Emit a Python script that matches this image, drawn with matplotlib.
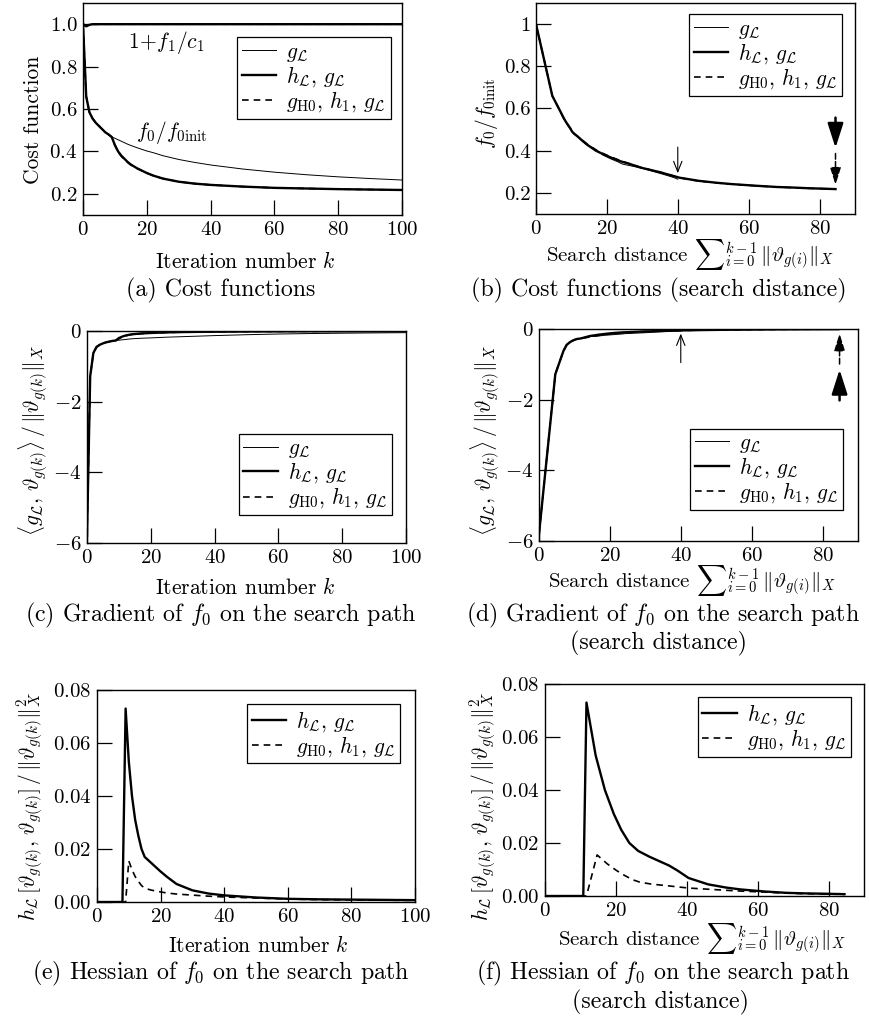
import numpy as np
import matplotlib
matplotlib.use("Agg")
import matplotlib.pyplot as plt

plt.rcParams['font.family'] = 'serif'
plt.rcParams['font.serif'] = ['cmr10']
plt.rcParams['mathtext.fontset'] = 'cm'
plt.rcParams['axes.formatter.use_mathtext'] = True
plt.rcParams['font.size'] = 15
plt.rcParams['axes.unicode_minus'] = True

# ---- data ----
k = [0, 1, 2, 3, 4, 5, 6, 7, 8, 9, 10, 11, 12, 13, 14, 15, 17, 20, 22, 25, 30,
     35, 40, 50, 60, 70, 80, 90, 100]

# search distance sum ||theta_g(i)||_X at each k
s_g = [0, 4.6, 6.9, 7.8, 8.5, 9.1, 9.7, 10.2, 10.8, 11.6, 12.0, 12.4, 12.8, 13.3,
       13.9, 14.5, 15.7, 17.0, 17.8, 18.8, 21.0, 23.0, 24.5, 30.0, 33.0, 35.5,
       37.5, 39.0, 40.0]
s_h = [0, 4.6, 6.9, 7.8, 8.5, 9.1, 9.7, 10.2, 10.8, 11.7, 14.3, 16.9, 19.4, 21.5,
       23.8, 26.3, 29.5, 35.0, 37.5, 40.5, 46.0, 51.0, 55.0, 62.0, 68.0, 73.0,
       77.0, 81.0, 84.5]
s_h1 = [0, 4.6, 6.9, 7.8, 8.5, 9.1, 9.7, 10.2, 10.8, 11.7, 14.7, 17.5, 20.2, 22.4,
        24.6, 26.8, 30.0, 35.0, 37.7, 40.5, 45.5, 50.5, 54.5, 61.5, 67.5, 72.5,
        76.8, 80.8, 84.5]

# cost f0/f0init
f0_g = [1.0, 0.66, 0.585, 0.555, 0.535, 0.52, 0.505, 0.49, 0.48, 0.468, 0.462,
        0.455, 0.448, 0.441, 0.434, 0.428, 0.417, 0.402, 0.394, 0.38, 0.362,
        0.348, 0.336, 0.317, 0.302, 0.29, 0.28, 0.272, 0.265]
f0_h = [1.0, 0.66, 0.585, 0.555, 0.535, 0.52, 0.505, 0.49, 0.48, 0.468, 0.43,
        0.40, 0.38, 0.365, 0.35, 0.338, 0.32, 0.298, 0.286, 0.272, 0.257, 0.248,
        0.242, 0.234, 0.228, 0.225, 0.222, 0.220, 0.218]
f0_h1 = [1.0, 0.66, 0.585, 0.555, 0.535, 0.52, 0.505, 0.49, 0.48, 0.468, 0.428,
         0.398, 0.377, 0.362, 0.348, 0.336, 0.319, 0.298, 0.286, 0.272, 0.257,
         0.248, 0.242, 0.234, 0.228, 0.225, 0.222, 0.220, 0.218]

# constraint 1 + f1/c1
c_g = [1.0, 0.99, 0.998, 1.0, 1.0, 1.0, 1.0, 1.0, 1.0, 1.0, 1.0, 1.0, 1.0, 1.0,
       1.0, 1.0, 1.0, 1.0, 1.0, 1.0, 1.0, 1.0, 1.0, 1.0, 1.0, 1.0, 1.0, 1.0, 1.0]
c_h = [1.0, 0.99, 0.997, 1.0, 1.0, 1.0, 1.0, 1.0, 1.0, 1.0, 1.0, 1.0, 1.0, 1.0,
       1.0, 1.0, 1.0, 1.0, 1.0, 1.0, 1.0, 1.0, 1.0, 1.0, 1.0, 1.0, 1.0, 1.0, 1.0]
c_h1 = [1.0, 0.99, 0.997, 1.0, 1.0, 1.0, 1.0, 1.0, 1.0, 1.0, 1.0, 1.0, 1.0, 1.0,
        1.0, 1.0, 1.0, 1.0, 1.0, 1.0, 1.0, 1.0, 1.0, 1.0, 1.0, 1.0, 1.0, 1.0, 1.0]

# gradient <g_L, theta> / ||theta||
gr_g = [-5.8, -1.28, -0.62, -0.45, -0.39, -0.35, -0.32, -0.30, -0.28, -0.27,
        -0.26, -0.25, -0.24, -0.23, -0.22, -0.215, -0.205, -0.195, -0.187, -0.175,
        -0.16, -0.145, -0.13, -0.105, -0.085, -0.072, -0.062, -0.054, -0.047]
gr_h = [-5.8, -1.28, -0.62, -0.45, -0.39, -0.35, -0.32, -0.30, -0.28, -0.27,
        -0.20, -0.16, -0.13, -0.11, -0.095, -0.085, -0.07, -0.056, -0.049, -0.04,
        -0.03, -0.024, -0.02, -0.014, -0.01, -0.008, -0.007, -0.006, -0.005]
gr_h1 = [-5.8, -1.28, -0.62, -0.45, -0.39, -0.35, -0.32, -0.30, -0.28, -0.27,
         -0.22, -0.17, -0.14, -0.115, -0.1, -0.09, -0.073, -0.058, -0.05, -0.042,
         -0.031, -0.025, -0.021, -0.015, -0.011, -0.009, -0.007, -0.006, -0.005]

# hessian h_L[theta, theta] / ||theta||^2
he_h = [0, 0, 0, 0, 0, 0, 0, 0, 0, 0.073, 0.053, 0.04, 0.031, 0.025, 0.02, 0.017,
        0.0148, 0.0115, 0.0095, 0.0068, 0.0044, 0.0032, 0.0025, 0.0017, 0.0012,
        0.001, 0.0009, 0.0008, 0.0007]
he_h1 = [0, 0, 0, 0, 0, 0, 0, 0, 0, 0, 0.0155, 0.0122, 0.0096, 0.0078, 0.0062,
         0.0052, 0.0045, 0.0038, 0.0034, 0.0030, 0.0026, 0.0022, 0.0019, 0.0015,
         0.0011, 0.0009, 0.0008, 0.0007, 0.0006]

lab_g = r'$g_{\mathcal{L}}$'
lab_h = r'$h_{\mathcal{L}},\,g_{\mathcal{L}}$'
lab_h1 = r'$g_{\mathrm{H0}},\,h_1,\,g_{\mathcal{L}}$'

cost_ticks = [0.2, 0.4, 0.6, 0.8, 1.0]
cost_ticklabels_b = ['0.2', '0.4', '0.6', '0.8', '1']

W, H = 869, 1019
fig = plt.figure(figsize=(W / 100, H / 100), dpi=100)

LAB, CAP, TICK, LEG = 15.5, 17.2, 15, 15.5


def add_ax(l, t, r, b):
    return fig.add_axes([l / W, 1 - b / H, (r - l) / W, (b - t) / H])


def ftext(x, y, s, size=LAB, **kw):
    fig.text(x / W, 1 - y / H, s, ha='center', va='center', fontsize=size, **kw)


def style(ax):
    ax.tick_params(direction='in', length=11, width=0.9, top=False, right=False,
                   labelsize=TICK, pad=4)
    for sp in ax.spines.values():
        sp.set_linewidth(1.0)


def legend(ax, loc, anchor):
    lg = ax.legend(loc=loc, bbox_to_anchor=anchor, fontsize=LEG, frameon=True,
                   fancybox=False, framealpha=1, edgecolor='black',
                   borderaxespad=0, handlelength=1.6, handletextpad=0.45,
                   labelspacing=0.02, borderpad=0.22)
    lg.get_frame().set_linewidth(0.9)


THIN, THICK, DASH = 0.7, 1.7, 1.2
dash = (0, (4, 3))
sd_lab = r'Search distance ${\sum}_{i=0}^{k-1}\,\|\vartheta_{g(i)}\|_X$'

# (a)
ax = add_ax(83, 3, 402, 215)
style(ax)
ax.plot(k, c_g, 'k-', lw=THIN)
ax.plot(k, c_h, 'k-', lw=THICK)
ax.plot(k, c_h1, color='k', lw=DASH, ls=dash)
ax.plot(k, f0_g, 'k-', lw=THIN, label=lab_g)
ax.plot(k, f0_h, 'k-', lw=THICK, label=lab_h)
ax.plot(k, f0_h1, color='k', lw=DASH, ls=dash, label=lab_h1)
ax.text(26, 0.914, r'$1\!+\!f_1/c_1$', ha='center', va='center', fontsize=LAB)
ax.text(28, 0.489, r'$f_0/f_{0\mathrm{init}}$', ha='center', va='center', fontsize=LAB)
ax.set_xlim(0, 100)
ax.set_ylim(0.1, 1.1)
ax.set_yticks(cost_ticks)
legend(ax, 'upper right', (0.964, 0.838))
ftext(33, 120, 'Cost function', rotation=90)
ftext(245, 262, r'Iteration number $k$')
ftext(221, 290, '(a) Cost functions', size=CAP)

# (b)
ax = add_ax(536, 3, 855, 214)
style(ax)
ax.plot(s_g, f0_g, 'k-', lw=THIN, label=lab_g)
ax.plot(s_h, f0_h, 'k-', lw=THICK, label=lab_h)
ax.plot(s_h1, f0_h1, color='k', lw=DASH, ls=dash, label=lab_h1)
ax.annotate('', xy=(40, 0.28), xytext=(40, 0.43),
            arrowprops=dict(arrowstyle='->,head_length=0.5,head_width=0.2', lw=0.8, color='k'))
ax.annotate('', xy=(84.5, 0.40), xytext=(84.5, 0.57),
            arrowprops=dict(arrowstyle='-|>,head_length=1.0,head_width=0.32', lw=1.8, color='k'))
ax.annotate('', xy=(84.5, 0.225), xytext=(84.5, 0.40),
            arrowprops=dict(arrowstyle='-|>,head_length=0.7,head_width=0.22', lw=1.1,
                            color='k', ls='--'))
ax.set_xlim(0, 90)
ax.set_ylim(0.1, 1.1)
ax.set_xticks([0, 20, 40, 60, 80])
ax.set_yticks(cost_ticks)
ax.set_yticklabels(cost_ticklabels_b)
legend(ax, 'upper right', (0.960, 0.946))
ftext(487, 113, r'$f_0/f_{0\mathrm{init}}$', rotation=90)
ftext(690, 255, sd_lab, size=15)
ftext(659, 290, '(b) Cost functions (search distance)', size=CAP)

grad_lab = r'$\langle g_{\mathcal{L}},\,\vartheta_{g(k)}\rangle\,/\,\|\vartheta_{g(k)}\|_X$'
hess_lab = (r'$h_{\mathcal{L}}\,[\vartheta_{g(k)},\,\vartheta_{g(k)}]\,/\,'
            r'\|\vartheta_{g(k)}\|_X^2$')

# (c)
ax = add_ax(87, 331, 406, 543)
style(ax)
ax.plot(k, gr_g, 'k-', lw=THIN, label=lab_g)
ax.plot(k, gr_h, 'k-', lw=THICK, label=lab_h)
ax.plot(k, gr_h1, color='k', lw=DASH, ls=dash, label=lab_h1)
ax.set_xlim(0, 100)
ax.set_ylim(-6, 0)
ax.set_yticks([-6, -4, -2, 0])
legend(ax, 'lower right', (0.956, 0.131))
ftext(33, 440, grad_lab, rotation=90)
ftext(245, 587, r'Iteration number $k$')
ftext(221, 615, r'(c) Gradient of $f_0$ on the search path', size=CAP)

# (d)
ax = add_ax(539, 329, 858, 541)
style(ax)
ax.plot(s_g, gr_g, 'k-', lw=THIN, label=lab_g)
ax.plot(s_h, gr_h, 'k-', lw=THICK, label=lab_h)
ax.plot(s_h1, gr_h1, color='k', lw=DASH, ls=dash, label=lab_h1)
ax.annotate('', xy=(40, -0.05), xytext=(40, -1.03),
            arrowprops=dict(arrowstyle='->,head_length=0.5,head_width=0.2', lw=0.8, color='k'))
ax.annotate('', xy=(84.8, -1.07), xytext=(84.8, -2.1),
            arrowprops=dict(arrowstyle='-|>,head_length=1.0,head_width=0.32', lw=1.8, color='k'))
ax.annotate('', xy=(84.8, -0.05), xytext=(84.8, -1.07),
            arrowprops=dict(arrowstyle='-|>,head_length=0.7,head_width=0.22', lw=1.1,
                            color='k', ls='--'))
ax.set_xlim(0, 90)
ax.set_ylim(-6, 0)
ax.set_xticks([0, 20, 40, 60, 80])
ax.set_yticks([-6, -4, -2, 0])
legend(ax, 'lower right', (0.954, 0.146))
ftext(485, 440, grad_lab, rotation=90)
ftext(692, 581, sd_lab, size=15)
ftext(663, 615, r'(d) Gradient of $f_0$ on the search path', size=CAP)
ftext(659, 643, '(search distance)', size=CAP)

# (e)
ax = add_ax(97, 690, 415, 902)
style(ax)
ax.plot(k, he_h, 'k-', lw=THICK, label=lab_h)
ax.plot(k, he_h1, color='k', lw=DASH, ls=dash, label=lab_h1)
ax.set_xlim(0, 100)
ax.set_ylim(0, 0.08)
ax.set_yticks([0, 0.02, 0.04, 0.06, 0.08])
legend(ax, 'upper right', (0.953, 0.934))
ftext(30, 807, hess_lab, rotation=90)
ftext(258, 945, r'Iteration number $k$')
ftext(221, 973, r'(e) Hessian of $f_0$ on the search path', size=CAP)

# (f)
ax = add_ax(545, 684, 864, 896)
style(ax)
ax.plot(s_h, he_h, 'k-', lw=THICK, label=lab_h)
ax.plot(s_h1, he_h1, color='k', lw=DASH, ls=dash, label=lab_h1)
ax.set_xlim(0, 90)
ax.set_ylim(0, 0.08)
ax.set_xticks([0, 20, 40, 60, 80])
ax.set_yticks([0, 0.02, 0.04, 0.06, 0.08])
legend(ax, 'upper right', (0.959, 0.937))
ftext(483, 807, hess_lab, rotation=90)
ftext(702, 939, sd_lab, size=15)
ftext(663, 973, r'(f) Hessian of $f_0$ on the search path', size=CAP)
ftext(661, 1002, '(search distance)', size=CAP)

fig.savefig('out.png', dpi=100)
